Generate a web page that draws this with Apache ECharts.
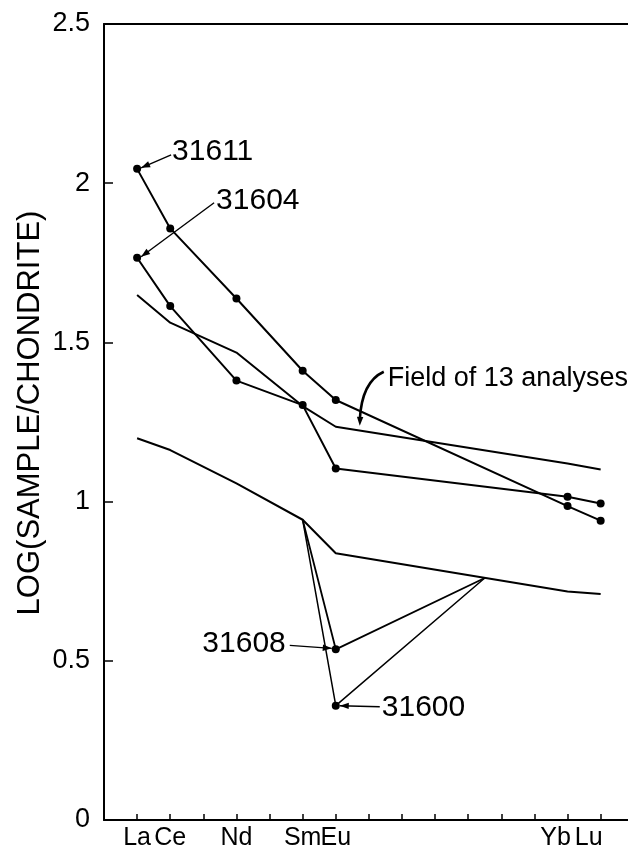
<!DOCTYPE html>
<html>
<head>
<meta charset="utf-8">
<script src="https://cdn.jsdelivr.net/npm/echarts@6/dist/echarts.min.js"></script>
<style>
html, body { margin: 0; padding: 0; background: #fff; }
#chart { width: 628px; height: 856px; }
</style>
</head>
<body>
<div id="chart"></div>
<script>
// REE elements, placed on x by atomic number
var elements = ['La', 'Ce', 'Nd', 'Sm', 'Eu', 'Yb', 'Lu'];
var atomicNo = [57, 58, 60, 62, 63, 70, 71];
var tickValues = [57, 58, 59, 60, 61, 62, 63, 64, 65, 66, 67, 68, 69, 70, 71];

// log(sample/chondrite) at each element
var s31611 = [2.045, 1.858, 1.638, 1.411, 1.319, 0.986, 0.940];
var s31604 = [1.766, 1.614, 1.380, 1.303, 1.104, 1.015, 0.994];
var fieldTop = [1.649, 1.562, 1.468, 1.300, 1.235, 1.120, 1.101];
var fieldBottom = [1.199, 1.162, 1.057, 0.943, 0.838, 0.718, 0.710];

// Eu anomaly samples, joined back onto the field's lower edge
var euX = [62, 63, 67.5];
var s31608 = [0.943, 0.536, 0.760];
var s31600 = [0.943, 0.359, 0.760];

var FONT = '"Liberation Sans", Arial, sans-serif';

function pairs(xs, ys) {
  return xs.map(function (x, i) { return [x, ys[i]]; });
}

var chart = echarts.init(document.getElementById('chart'));

var lineStyle = { color: '#000', width: 2 };
var dotStyle = { color: '#000' };

chart.setOption({
  animation: false,
  backgroundColor: '#fff',
  textStyle: { fontFamily: FONT },
  grid: { left: 104, right: 0, top: 24, bottom: 36 },
  xAxis: [{
    type: 'value',
    min: 56,
    max: 71.826,
    interval: 1,
    splitLine: { show: false },
    axisLine: { lineStyle: { color: '#000', width: 2 } },
    axisTick: {
      inside: true,
      length: 6,
      customValues: tickValues,
      lineStyle: { color: '#000', width: 1.5 }
    },
    axisLabel: {
      customValues: atomicNo,
      margin: 6,
      color: '#000',
      fontSize: 25,
      fontFamily: FONT,
      formatter: function (v) {
        var i = atomicNo.indexOf(Math.round(v));
        if (i < 0 || Math.abs(v - atomicNo[i]) > 1e-6) return '';
        // the heavy-REE labels sit a little left of their points
        return v >= 70 ? '{hr|' + elements[i] + '}' : elements[i];
      },
      rich: {
        hr: { fontSize: 25, fontFamily: FONT, color: '#000', padding: [0, 24, 0, 0] }
      }
    }
  }, {
    type: 'value',
    position: 'top',
    min: 56,
    max: 71.826,
    splitLine: { show: false },
    axisLine: { lineStyle: { color: '#000', width: 2 } },
    axisTick: { show: false },
    axisLabel: { show: false }
  }],
  yAxis: {
    type: 'value',
    min: 0,
    max: 2.5,
    interval: 0.5,
    name: 'LOG(SAMPLE/CHONDRITE)',
    nameLocation: 'middle',
    nameGap: 58,
    nameMoveOverlap: false,
    nameTextStyle: { color: '#000', fontSize: 31, fontFamily: FONT, padding: [0, 0, 0, 18] },
    splitLine: { show: false },
    axisLine: { lineStyle: { color: '#000', width: 2 } },
    axisTick: { inside: true, length: 9, lineStyle: { color: '#000', width: 1.5 } },
    axisLabel: { color: '#000', fontSize: 27, margin: 14, fontFamily: FONT }
  },
  series: [
    { name: 'field top', type: 'line', data: pairs(atomicNo, fieldTop), showSymbol: false, lineStyle: lineStyle },
    { name: 'field bottom', type: 'line', data: pairs(atomicNo, fieldBottom), showSymbol: false, lineStyle: lineStyle },
    { name: '31611', type: 'line', data: pairs(atomicNo, s31611), symbol: 'circle', symbolSize: 8, itemStyle: dotStyle, lineStyle: lineStyle },
    { name: '31604', type: 'line', data: pairs(atomicNo, s31604), symbol: 'circle', symbolSize: 8, itemStyle: dotStyle, lineStyle: lineStyle },
    {
      name: '31608', type: 'line', data: pairs(euX, s31608), symbol: 'circle',
      symbolSize: function (v, p) { return p.dataIndex === 1 ? 8 : 0; },
      itemStyle: dotStyle, lineStyle: { color: '#000', width: 1.8 }
    },
    {
      name: '31600', type: 'line', data: pairs(euX, s31600), symbol: 'circle',
      symbolSize: function (v, p) { return p.dataIndex === 1 ? 8 : 0; },
      itemStyle: dotStyle, lineStyle: { color: '#000', width: 1.5 }
    }
  ]
});

// leader arrows and sample labels, anchored to the data points they name
function px(x, y) { return chart.convertToPixel({ gridIndex: 0 }, [x, y]); }

function arrowHead(x1, y1, x2, y2) {
  var a = Math.atan2(y2 - y1, x2 - x1), len = 9, half = 3.2;
  var bx = x2 - len * Math.cos(a), by = y2 - len * Math.sin(a);
  return {
    type: 'polygon',
    shape: { points: [[x2, y2], [bx + half * Math.sin(a), by - half * Math.cos(a)], [bx - half * Math.sin(a), by + half * Math.cos(a)]] },
    style: { fill: '#000' }
  };
}

var labels = [
  // text, anchor point, text offset, leader start offset, leader end offset, align
  { text: '31611', at: px(57, s31611[0]), tx: 35, ty: -17, lx: 34, ly: -14, ex: 4, ey: -1, align: 'left' },
  { text: '31604', at: px(57, s31604[0]), tx: 79, ty: -57, lx: 77, ly: -55, ex: 4, ey: -1, align: 'left' },
  { text: '31608', at: px(63, s31608[1]), tx: -50, ty: -6, lx: -46, ly: -4, ex: -4, ey: -1, align: 'right' },
  { text: '31600', at: px(63, s31600[1]), tx: 46, ty: 2, lx: 44, ly: 1, ex: 4, ey: 0, align: 'left' }
];

var graphics = [];
labels.forEach(function (l) {
  var x0 = l.at[0] + l.lx, y0 = l.at[1] + l.ly;
  var x1 = l.at[0] + l.ex, y1 = l.at[1] + l.ey;
  graphics.push({ type: 'line', shape: { x1: x0, y1: y0, x2: x1, y2: y1 }, style: { stroke: '#000', lineWidth: 1.4 } });
  graphics.push(arrowHead(x0, y0, x1, y1));
  graphics.push({
    type: 'text', x: l.at[0] + l.tx, y: l.at[1] + l.ty,
    style: { text: l.text, fill: '#000', fontSize: 30, fontFamily: FONT, align: l.align, verticalAlign: 'middle' }
  });
});

// curved arrow to the field outline
var eu = px(63, fieldTop[4]);
var tipX = eu[0] + 24, tipY = eu[1] - 1;
graphics.push({
  type: 'bezierCurve',
  shape: { x1: eu[0] + 48, y1: eu[1] - 55, cpx1: eu[0] + 26, cpy1: eu[1] - 45, x2: tipX, y2: tipY - 6 },
  style: { stroke: '#000', lineWidth: 2.6, fill: null }
});
graphics.push(arrowHead(tipX + 0.5, tipY - 12, tipX, tipY));
graphics.push({
  type: 'text', x: eu[0] + 52, y: eu[1] - 48,
  style: { text: 'Field of 13 analyses', fill: '#000', fontSize: 27, fontFamily: FONT, align: 'left', verticalAlign: 'middle' }
});

chart.setOption({ graphic: graphics });
</script>
</body>
</html>
